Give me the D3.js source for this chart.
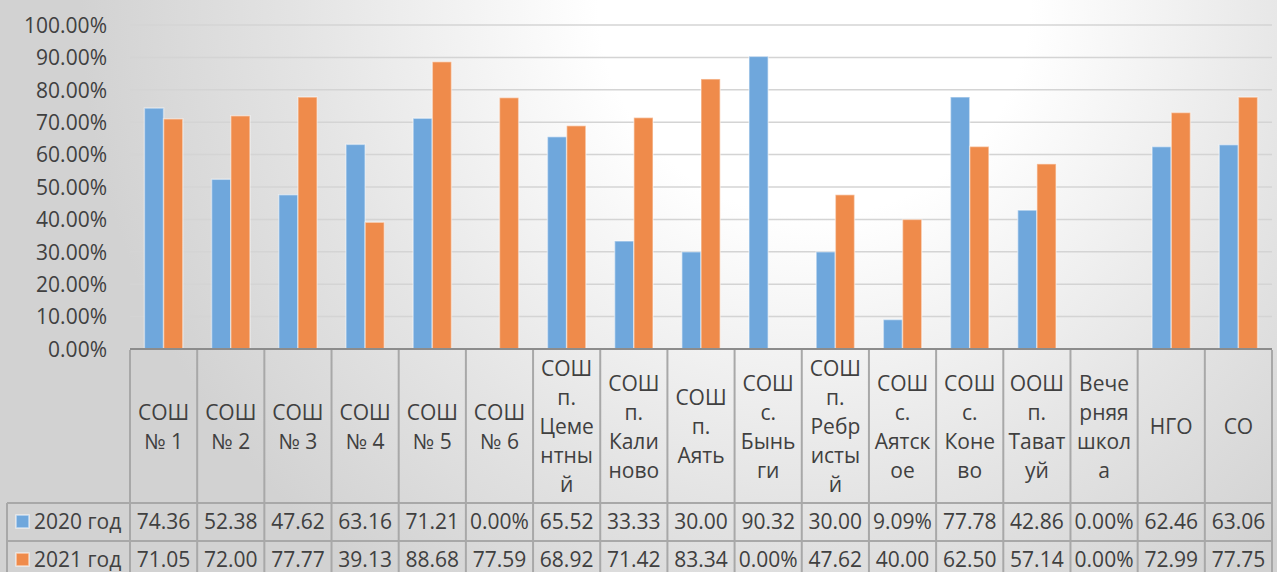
<!DOCTYPE html>
<html><head><meta charset="utf-8">
<script src="https://cdn.jsdelivr.net/npm/d3@7"></script>
<style>html,body{margin:0;padding:0;background:#fff;}svg{display:block;}</style>
</head><body>
<svg id="chart" width="1277" height="572"></svg>
<script>
const categories = ["СОШ № 1","СОШ № 2","СОШ № 3","СОШ № 4","СОШ № 5","СОШ № 6","СОШ п. Цементный","СОШ п. Калиново","СОШ п. Аять","СОШ с. Быньги","СОШ п. Ребристый","СОШ с. Аятское","СОШ с. Конево","ООШ п. Таватуй","Вечерняя школа","НГО","СО"];
const categoryLines = [["СОШ","№ 1"],["СОШ","№ 2"],["СОШ","№ 3"],["СОШ","№ 4"],["СОШ","№ 5"],["СОШ","№ 6"],["СОШ","п.","Цеме","нтны","й"],["СОШ","п.","Кали","ново"],["СОШ","п.","Аять"],["СОШ","с.","Бынь","ги"],["СОШ","п.","Ребр","исты","й"],["СОШ","с.","Аятск","ое"],["СОШ","с.","Коне","во"],["ООШ","п.","Тават","уй"],["Вече","рняя","школ","а"],["НГО"],["СО"]];
const seriesNames = ["2020 год","2021 год"];
const values2020 = [74.36,52.38,47.62,63.16,71.21,0,65.52,33.33,30.00,90.32,30.00,9.09,77.78,42.86,0,62.46,63.06];
const values2021 = [71.05,72.00,77.77,39.13,88.68,77.59,68.92,71.42,83.34,0,47.62,40.00,62.50,57.14,0,72.99,77.75];
const labels2020 = ["74.36","52.38","47.62","63.16","71.21","0.00%","65.52","33.33","30.00","90.32","30.00","9.09%","77.78","42.86","0.00%","62.46","63.06"];
const labels2021 = ["71.05","72.00","77.77","39.13","88.68","77.59","68.92","71.42","83.34","0.00%","47.62","40.00","62.50","57.14","0.00%","72.99","77.75"];
const yTicks = [0,10,20,30,40,50,60,70,80,90,100];
const colors = ["#6fa7dc","#ef8b4b"];

const svg = d3.select("#chart");
const W = 1277, H = 572;
const font = "'Open Sans', sans-serif";
const fs = 21;
const textColor = "#404040";

// background gradient
const defs = svg.append("defs");
const rg = defs.append("radialGradient").attr("id","bg").attr("gradientUnits","userSpaceOnUse")
  .attr("cx",800).attr("cy",0).attr("r",720).attr("fx",820).attr("fy",0);
rg.append("stop").attr("offset","0").attr("stop-color","#ffffff");
rg.append("stop").attr("offset","0.3").attr("stop-color","#ffffff");
rg.append("stop").attr("offset","0.7").attr("stop-color","#e4e4e4");
rg.append("stop").attr("offset","1").attr("stop-color","#d2d2d2");
svg.append("rect").attr("width",W).attr("height",H).attr("fill","url(#bg)");

const plotL = 130, plotR = 1272, plotT = 25, plotB = 349;
const x = d3.scaleBand().domain(categories).range([plotL, plotR]).padding(0);
const xs = d3.scaleBand().domain(seriesNames).range([0, x.bandwidth()]).paddingInner(0).paddingOuter(0.75);
const y = d3.scaleLinear().domain([0,100]).range([plotB, plotT]);

// gridlines
svg.append("g").selectAll("line").data(yTicks.filter(d=>d>0)).join("line")
  .attr("x1",plotL).attr("x2",plotR).attr("y1",d=>y(d)).attr("y2",d=>y(d))
  .attr("stroke","#d4d4d4").attr("stroke-width",1.5);

// y axis labels
const yAxis = d3.axisLeft(y).tickValues(yTicks).tickSize(0).tickPadding(0).tickFormat(d=>d.toFixed(2)+"%");
const gy = svg.append("g").attr("transform",`translate(107,0)`).call(yAxis);
gy.select(".domain").remove();
gy.selectAll("text").attr("font-family",font).attr("font-size",fs).attr("fill",textColor).attr("dy","0.35em");

// bars
const series = [values2020, values2021];
const gb = svg.append("g");
series.forEach((vals,si)=>{
  gb.selectAll(null).data(vals.map((v,i)=>({v,c:categories[i]}))).join("rect")
    .attr("x",d=>x(d.c)+xs(seriesNames[si]))
    .attr("width",xs.bandwidth())
    .attr("y",d=>y(d.v))
    .attr("height",d=>plotB-y(d.v))
    .attr("fill",colors[si])
    .attr("stroke","rgba(255,255,255,0.45)").attr("stroke-width",1.5);
});

// table
const rowTop = [349, 503, 541, 579];
const tableLeft = 7;
const lineColor = "#a8a8a8";
const gt = svg.append("g");
gt.append("line").attr("x1",plotL).attr("x2",plotR).attr("y1",plotB).attr("y2",plotB).attr("stroke","#8c8c8c").attr("stroke-width",2);
[503,541].forEach(yy=>{
  gt.append("line").attr("x1",tableLeft).attr("x2",plotR).attr("y1",yy).attr("y2",yy).attr("stroke",lineColor).attr("stroke-width",2);
});
const bounds = categories.map(c=>x(c)).concat([plotR]);
bounds.forEach(bx=>{
  gt.append("line").attr("x1",bx).attr("x2",bx).attr("y1",plotB+1).attr("y2",H).attr("stroke",lineColor).attr("stroke-width",2);
});
gt.append("line").attr("x1",tableLeft).attr("x2",tableLeft).attr("y1",503).attr("y2",H).attr("stroke",lineColor).attr("stroke-width",2);

// category labels
const lh = 29;
const headerMid = (rowTop[0]+rowTop[1])/2 + 1;
categories.forEach((c,i)=>{
  const lines = categoryLines[i];
  const t = gt.append("text").attr("font-family",font).attr("font-size",fs).attr("fill",textColor)
    .attr("text-anchor","middle");
  lines.forEach((ln,k)=>{
    t.append("tspan").attr("x",x(c)+x.bandwidth()/2)
      .attr("y",headerMid + (k-(lines.length-1)/2)*lh).attr("dy","0.35em").text(ln);
  });
});

// series rows
const labelArrs = [labels2020, labels2021];
labelArrs.forEach((labs,si)=>{
  const cy = (rowTop[si+1]+rowTop[si+2])/2;
  gt.append("rect").attr("x",16).attr("y",cy-7).attr("width",13).attr("height",13)
    .attr("fill",colors[si]).attr("stroke","rgba(255,255,255,0.6)").attr("stroke-width",1.5);
  gt.append("text").attr("x",34).attr("y",cy).attr("dy","0.35em").attr("font-family",font).attr("font-size",fs)
    .attr("fill",textColor).text(seriesNames[si]);
  labs.forEach((l,i)=>{
    gt.append("text").attr("x",x(categories[i])+x.bandwidth()/2).attr("y",cy).attr("dy","0.35em")
      .attr("text-anchor","middle").attr("font-family",font).attr("font-size",fs).attr("fill",textColor).text(l);
  });
});
</script>
</body></html>
